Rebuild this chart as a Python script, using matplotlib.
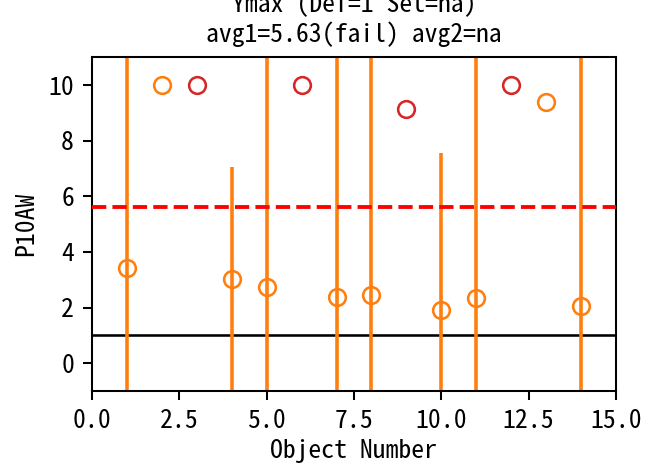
import matplotlib
matplotlib.use("Agg")
import matplotlib.pyplot as plt
import numpy as np

plt.rcParams['font.family'] = ['Noto Sans Mono CJK SC', 'Noto Sans CJK SC', 'DejaVu Sans']
plt.rcParams['axes.unicode_minus'] = False

# Data
obj = [1, 2, 3, 4, 5, 6, 7, 8, 9, 10, 11, 12, 13, 14]
vals = [3.43, 10.0, 10.0, 3.02, 2.73, 10.0, 2.39, 2.47, 9.13, 1.92, 2.33, 10.0, 9.38, 2.07]
status = ['ok', 'ok', 'bad', 'ok', 'ok', 'bad', 'ok', 'ok', 'bad', 'ok', 'ok', 'bad', 'ok', 'ok']
bar_obj = [1, 4, 5, 7, 8, 10, 11, 14]
bar_err = [12.0, 4.04, 12.0, 12.0, 12.0, 5.63, 12.0, 12.0]
def_value = 1.0
avg1 = 5.63
title_text = "Ymax (Def=1 Set=na)\navg1=5.63(fail) avg2=na"
xlabel = "Object Number"
ylabel = "P10AW"

DPI = 185
fig = plt.figure(figsize=(648 / DPI, 465 / DPI), dpi=DPI)
ax = fig.add_axes([0.1420, 0.159, 0.8086, 0.718])

bar_vals = [vals[obj.index(o)] for o in bar_obj]
ax.errorbar(bar_obj, bar_vals, yerr=bar_err, fmt='none', ecolor='#ff7f0e',
            elinewidth=1.4, capsize=0, zorder=2)

colors = {'ok': '#ff7f0e', 'bad': '#d62728'}
for s in ['ok', 'bad']:
    xs = [o for o, st in zip(obj, status) if st == s]
    ys = [v for v, st in zip(vals, status) if st == s]
    ax.plot(xs, ys, 'o', markerfacecolor='none', markeredgecolor=colors[s],
            markersize=6.5, markeredgewidth=1.0, linestyle='none', zorder=3)

ax.axhline(def_value, color='black', linewidth=1.0, zorder=1)
ax.axhline(avg1, color='red', linestyle='--', linewidth=1.5, zorder=4)

ax.set_xlim(0, 15)
ax.set_ylim(-1, 11)
ax.set_xticks([0, 2.5, 5, 7.5, 10, 12.5, 15])
ax.set_yticks([0, 2, 4, 6, 8, 10])
ax.set_xlabel(xlabel, labelpad=2.5)
ax.set_ylabel(ylabel)
ax.set_title(title_text, fontsize=10)

fig.savefig("out.png", dpi=DPI)
